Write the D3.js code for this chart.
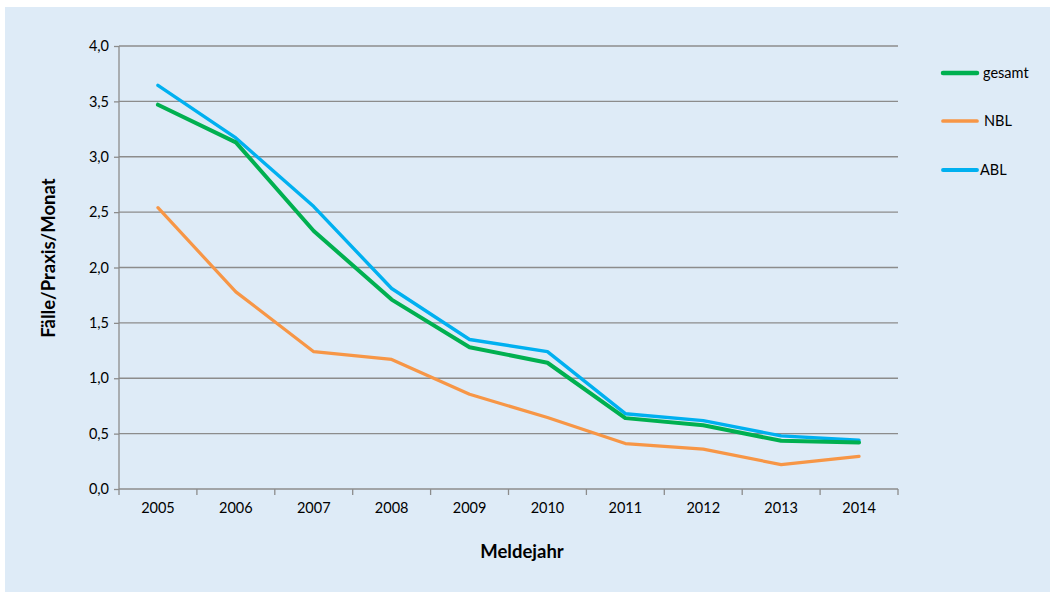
<!DOCTYPE html>
<html><head><meta charset="utf-8">
<script src="https://cdn.jsdelivr.net/npm/d3@7"></script>
<style>
html,body{margin:0;padding:0;background:#fff;}
svg{display:block;font-family:Lato,"Open Sans",sans-serif;}
</style></head>
<body>
<svg id="chart" width="1050" height="592"></svg>
<script>
const years = ["2005","2006","2007","2008","2009","2010","2011","2012","2013","2014"];
const gesamt = [3.47, 3.13, 2.33, 1.71, 1.28, 1.14, 0.64, 0.575, 0.435, 0.42];
const nbl    = [2.54, 1.78, 1.24, 1.17, 0.855, 0.645, 0.41, 0.36, 0.22, 0.295];
const abl    = [3.645, 3.17, 2.55, 1.81, 1.35, 1.24, 0.68, 0.617, 0.48, 0.44];
const yTicks = [0, 0.5, 1.0, 1.5, 2.0, 2.5, 3.0, 3.5, 4.0];
const seriesNames = ["gesamt", "NBL", "ABL"];
const seriesColors = ["#00B050", "#F79646", "#00B0F0"];
const seriesData = [gesamt, nbl, abl];

const svg = d3.select("#chart");
svg.append("rect").attr("x",5).attr("y",7).attr("width",1045).attr("height",585).attr("fill","#DEEBF7");

const x = d3.scaleBand().domain(years).range([119, 898]);
const y = d3.scaleLinear().domain([0, 4]).range([489, 46]);
const fmt = d => d3.format(".1f")(d).replace(".", ",");
const tickFont = 14.5;

// gridlines
svg.append("g").selectAll("line").data(yTicks.filter(d=>d>0)).join("line")
  .attr("x1",119).attr("x2",898).attr("y1",d=>y(d)).attr("y2",d=>y(d))
  .attr("stroke","#8C8C8C").attr("stroke-width",1.3);

// y axis
const yAx = svg.append("g").attr("transform","translate(119,0)")
  .call(d3.axisLeft(y).tickValues(yTicks).tickFormat(fmt).tickSize(5).tickPadding(5));
yAx.select(".domain").attr("stroke","#8C8C8C").attr("stroke-width",1.3).attr("d","M0,46V489");
yAx.selectAll(".tick line").attr("stroke","#8C8C8C").attr("stroke-width",1.3);
yAx.selectAll("text").attr("font-size",tickFont).attr("fill","#000").attr("font-family","Lato");

// x axis
const xAx = svg.append("g").attr("transform","translate(0,489)")
  .call(d3.axisBottom(x).tickSize(0).tickPadding(14));
xAx.select(".domain").attr("stroke","#8C8C8C").attr("stroke-width",1.3).attr("d","M119,0H898");
xAx.selectAll("text").attr("font-size",tickFont).attr("fill","#000").attr("font-family","Lato");
// tick marks at band boundaries
const bounds = years.map(d => x(d)).concat([x(years[years.length-1]) + x.bandwidth()]);
svg.append("g").selectAll("line").data(bounds).join("line")
  .attr("x1",d=>d).attr("x2",d=>d).attr("y1",489).attr("y2",495)
  .attr("stroke","#8C8C8C").attr("stroke-width",1.3);

// lines
const line = d3.line().x((d,i)=>x(years[i]) + x.bandwidth()/2).y(d=>y(d));
const widths = [4, 3.2, 3.4];
const order = [1, 2, 0];
order.forEach(k => {
  svg.append("path").datum(seriesData[k]).attr("d", line)
    .attr("fill","none").attr("stroke",seriesColors[k]).attr("stroke-width",widths[k])
    .attr("stroke-linejoin","round").attr("stroke-linecap","round");
});

// legend
const legY = [73, 121, 170];
const legTextX = [983, 984, 980];
seriesNames.forEach((n,i) => {
  svg.append("line").attr("x1",943).attr("x2",977).attr("y1",legY[i]).attr("y2",legY[i])
    .attr("stroke",seriesColors[i]).attr("stroke-width",widths[i]+0.5).attr("stroke-linecap","round");
  svg.append("text").attr("x",legTextX[i]).attr("y",legY[i]).attr("dy","0.35em")
    .attr("font-size",tickFont).attr("fill","#000").text(n);
});

// axis titles
svg.append("text").attr("transform","translate(49,258) rotate(-90)")
  .attr("text-anchor","middle").attr("dy","0.35em").attr("font-weight","bold")
  .attr("font-size",18.5).attr("fill","#000").text("Fälle/Praxis/Monat");
svg.append("text").attr("x",522).attr("y",552).attr("dy","0.35em")
  .attr("text-anchor","middle").attr("font-weight","bold")
  .attr("font-size",18.5).attr("fill","#000").text("Meldejahr");
</script>
</body></html>
